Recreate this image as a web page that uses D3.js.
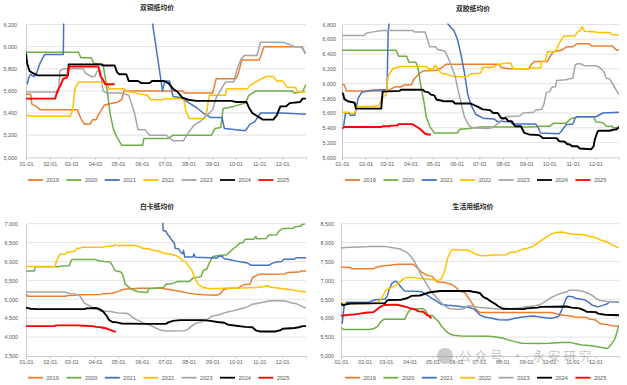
<!DOCTYPE html>
<html>
<head>
<meta charset="utf-8">
<script src="https://cdn.jsdelivr.net/npm/d3@7"></script>
<style>
  html, body { margin: 0; padding: 0; background: #fff; }
  svg { display: block; font-family: "Liberation Sans", Arial, sans-serif; }
</style>
</head>
<body>
<svg id="chart" width="627" height="385"></svg>
<script>
// x values are months counted from 01-01 (0 = 01-01, 12 = year end)
const years = ['2019', '2020', '2021', '2022', '2023', '2024', '2025'];
const yearColors = ['#ED7D31', '#70AD47', '#4472C4', '#FFC000', '#A5A5A5', '#000000', '#FF0000'];
const xTickLabels = ['01-01', '02-01', '03-01', '04-01', '05-01', '06-01', '07-01', '08-01', '09-01', '10-01', '11-01', '12-01'];

// 双铜纸均价
const stTicks = [5000, 5200, 5400, 5600, 5800, 6000, 6200];
const st2019 = [[0,5570],[0.2,5570],[0.25,5480],[0.45,5460],[0.6,5430],[2.2,5430],[2.35,5350],[2.5,5300],[2.75,5300],[2.85,5340],[3.0,5340],[3.15,5400],[3.35,5470],[3.5,5480],[3.95,5500],[4.1,5520],[4.2,5600],[6.7,5600],[6.8,5580],[8.0,5580],[8.15,5710],[9.0,5710],[9.1,5760],[9.25,5880],[10.0,5880],[10.2,6000],[11.8,6000],[11.95,5950],[12,5950]];
const st2020 = [[0,5950],[2.25,5950],[2.35,5900],[2.8,5900],[2.9,5850],[3.3,5840],[3.45,5650],[3.6,5400],[3.75,5250],[3.9,5180],[4.1,5110],[5.0,5110],[5.05,5170],[6.1,5170],[6.3,5200],[7.95,5200],[8.1,5260],[8.35,5270],[8.45,5440],[8.9,5460],[9.4,5490],[9.55,5560],[9.85,5600],[11.4,5600],[11.5,5580],[11.85,5590],[12,5660]];
const st2021 = [[0.05,5660],[0.12,5720],[0.2,5750],[0.35,5730],[0.45,5760],[0.6,5850],[0.8,5930],[1.6,5930],[1.65,6900],[5.0,6815],[5.43,6200],[5.85,5600],[5.95,5690],[6.15,5690],[6.3,5550],[6.6,5540],[7.0,5490],[7.3,5450],[7.6,5400],[7.9,5360],[8.4,5360],[8.5,5260],[9.4,5240],[9.6,5300],[9.8,5320],[10.05,5400],[11.0,5400],[12,5390]];
const st2022 = [[0,5380],[0.3,5370],[1.9,5370],[2.0,5430],[2.1,5620],[2.25,5680],[3.45,5680],[3.55,5620],[4.2,5620],[4.3,5600],[4.7,5580],[5.2,5560],[5.35,5520],[5.8,5520],[6.0,5530],[6.75,5530],[6.85,5420],[7.0,5350],[7.65,5350],[7.75,5420],[7.85,5560],[8.55,5560],[8.6,5620],[9.5,5620],[9.6,5650],[10.0,5700],[10.3,5730],[10.6,5730],[10.75,5690],[11.0,5690],[11.2,5630],[11.55,5630],[11.65,5590],[12,5590]];
const st2023 = [[0,5590],[1.4,5590],[1.45,5780],[1.6,5800],[2.45,5800],[2.55,5760],[2.8,5730],[2.95,5730],[3.05,5780],[3.2,5780],[3.3,5600],[3.45,5580],[4.1,5580],[4.4,5560],[4.5,5500],[4.65,5400],[4.8,5250],[5.1,5250],[5.3,5200],[6.0,5200],[6.3,5150],[6.75,5150],[6.95,5220],[7.2,5290],[7.5,5330],[7.8,5390],[8.0,5430],[8.15,5540],[8.35,5610],[8.55,5680],[8.9,5680],[9.05,5800],[9.2,5880],[9.35,5920],[9.9,5920],[10.05,6040],[11.0,6040],[11.3,6020],[11.5,6000],[11.85,6000],[11.95,5940],[12,5940]];
const st2024 = [[0,5940],[0.05,5850],[0.15,5780],[0.3,5760],[0.5,5740],[1.8,5740],[1.83,5840],[3.2,5840],[3.3,5830],[3.8,5830],[3.9,5770],[4.0,5750],[4.3,5750],[4.4,5690],[4.8,5690],[4.95,5670],[5.3,5670],[5.4,5690],[5.9,5690],[6.1,5670],[6.3,5620],[6.5,5590],[6.7,5540],[6.95,5520],[7.3,5510],[8.8,5510],[9.0,5500],[9.45,5500],[9.55,5450],[9.7,5400],[9.85,5380],[10.15,5340],[10.6,5340],[10.75,5380],[10.9,5460],[11.15,5460],[11.3,5490],[11.75,5500],[11.85,5530],[12,5530]];
const st2025 = [[0,5530],[1.25,5530],[1.35,5600],[1.5,5660],[1.6,5710],[1.75,5720],[1.85,5820],[3.1,5820],[3.2,5730],[3.3,5700],[3.4,5660],[3.8,5660]];

// 双胶纸均价
const sjTicks = [5000, 5200, 5400, 5600, 5800, 6000, 6200, 6400, 6600, 6800];
const sj2019 = [[0,5990],[0.1,5980],[0.2,5900],[2.0,5900],[2.15,5930],[2.35,5960],[2.5,5950],[2.7,5980],[3.0,5980],[3.1,6050],[3.3,6120],[3.5,6170],[4.1,6180],[4.3,6210],[4.5,6260],[6.8,6260],[6.9,6220],[7.2,6200],[8.1,6200],[8.2,6260],[8.35,6300],[8.9,6300],[9.0,6360],[9.15,6430],[9.5,6450],[9.75,6500],[10.0,6500],[10.2,6540],[10.7,6540],[10.8,6510],[11.7,6510],[11.9,6450],[12,6450]];
const sj2020 = [[0,6450],[2.35,6450],[2.45,6370],[2.8,6370],[2.9,6290],[3.2,6290],[3.3,6200],[3.4,6000],[3.55,5750],[3.65,5550],[3.8,5420],[4.0,5330],[5.0,5330],[5.1,5380],[5.5,5390],[6.0,5410],[8.2,5410],[8.6,5420],[9.0,5420],[9.15,5460],[9.7,5460],[9.9,5520],[10.2,5550],[10.9,5550],[11.0,5480],[11.3,5470],[11.45,5420],[11.7,5420],[11.75,5400],[11.95,5400],[12,5420]];
const sj2021 = [[0.07,5420],[0.15,5600],[0.3,5600],[0.35,5570],[0.55,5570],[0.7,5800],[0.85,5880],[1.3,5910],[1.95,5920],[2.0,6700],[2.1,7000],[4.4,7000],[4.6,6800],[4.85,6720],[5.0,6600],[5.15,6400],[5.3,6150],[5.45,5850],[5.6,5700],[5.8,5580],[6.0,5550],[6.1,5530],[6.6,5520],[6.7,5490],[7.3,5480],[7.4,5450],[8.4,5450],[8.5,5400],[8.6,5330],[9.4,5320],[9.5,5350],[9.7,5440],[10.0,5450],[10.1,5530],[10.2,5550],[11.0,5550],[11.3,5600],[12,5610]];
const sj2022 = [[0,5610],[0.3,5610],[0.4,5590],[0.55,5600],[0.65,5690],[1.3,5690],[1.6,5700],[1.75,5820],[1.9,5840],[2.0,6100],[2.2,6200],[2.5,6230],[3.65,6230],[3.75,6200],[3.95,6200],[4.05,6250],[4.15,6200],[4.3,6140],[4.5,6130],[4.75,6100],[5.4,6090],[5.55,6130],[6.0,6140],[6.1,6220],[6.5,6220],[6.7,6250],[7.0,6270],[7.3,6280],[7.4,6210],[7.6,6200],[8.1,6200],[8.2,6210],[8.6,6210],[8.65,6300],[8.8,6300],[8.9,6430],[9.2,6430],[9.3,6470],[9.45,6570],[9.6,6640],[10.1,6650],[10.2,6700],[10.3,6710],[10.4,6770],[10.5,6710],[11.0,6700],[11.1,6690],[11.6,6690],[11.7,6660],[12,6660]];
const sj2023 = [[0,6650],[0.95,6650],[1.05,6680],[1.35,6700],[1.75,6720],[3.05,6720],[3.15,6700],[3.6,6700],[3.7,6600],[3.8,6500],[4.05,6500],[4.15,6460],[4.45,6440],[4.6,6350],[4.75,6230],[4.9,6100],[5.0,5950],[5.15,5750],[5.3,5550],[5.5,5430],[5.65,5400],[6.3,5390],[6.5,5400],[6.85,5480],[7.1,5550],[7.7,5560],[7.85,5600],[8.3,5610],[8.4,5640],[8.65,5650],[8.75,5720],[8.85,5880],[9.0,5890],[9.1,5950],[9.25,5960],[9.3,6040],[9.7,6050],[9.8,6060],[10.0,6070],[10.1,6250],[10.2,6270],[10.4,6260],[10.5,6240],[11.0,6240],[11.15,6220],[11.35,6160],[11.45,6070],[11.6,6060],[11.75,5980],[11.9,5900],[12,5850]];
const sj2024 = [[0,5870],[0.05,5860],[0.1,5790],[0.25,5760],[0.55,5740],[0.6,5660],[1.7,5660],[1.76,5890],[2.5,5900],[2.55,5915],[3.5,5915],[3.6,5890],[3.75,5880],[3.85,5850],[4.0,5840],[4.1,5780],[4.3,5770],[4.4,5760],[4.8,5760],[4.9,5730],[5.55,5730],[5.85,5690],[6.1,5650],[6.4,5640],[6.55,5600],[6.75,5600],[6.9,5530],[7.1,5530],[7.2,5490],[7.35,5490],[7.5,5420],[7.75,5420],[7.9,5330],[8.1,5310],[8.55,5300],[8.7,5260],[9.3,5260],[9.4,5220],[9.65,5210],[9.75,5180],[9.9,5170],[9.95,5150],[10.2,5150],[10.3,5120],[10.8,5110],[10.9,5150],[10.95,5240],[11.05,5330],[11.1,5360],[11.6,5360],[11.7,5370],[11.9,5380],[12,5410]];
const sj2025 = [[0,5390],[0.1,5410],[1.7,5410],[1.75,5420],[2.05,5420],[2.1,5430],[2.4,5430],[2.45,5450],[3.05,5450],[3.2,5420],[3.35,5390],[3.5,5350],[3.6,5320],[3.7,5310],[3.85,5310]];

// 白卡纸均价
const bkTicks = [3500, 4000, 4500, 5000, 5500, 6000, 6500, 7000];
const bk2019 = [[0,5150],[0.08,5080],[1.7,5080],[1.8,5100],[2.1,5110],[2.2,5120],[3.2,5130],[3.3,5150],[3.7,5160],[3.85,5190],[4.0,5210],[4.1,5250],[4.3,5270],[4.9,5290],[5.8,5290],[6.0,5270],[6.2,5250],[6.5,5220],[6.7,5200],[6.9,5170],[7.2,5140],[7.6,5120],[8.2,5110],[8.35,5160],[8.45,5250],[8.7,5290],[9.1,5300],[9.2,5340],[9.35,5390],[9.6,5400],[9.7,5570],[9.85,5620],[10.0,5660],[11.1,5670],[11.2,5710],[11.7,5720],[11.8,5750],[12,5750]];
const bk2020 = [[0,5750],[0.35,5750],[0.4,5860],[1.4,5860],[1.5,5880],[1.85,5890],[1.95,6040],[2.0,6050],[3.0,6050],[3.1,6020],[3.35,6000],[3.6,5990],[3.7,5900],[3.8,5770],[3.9,5740],[4.05,5730],[4.15,5650],[4.25,5400],[4.35,5350],[4.5,5280],[4.8,5200],[5.2,5180],[5.25,5280],[5.5,5290],[5.9,5310],[6.0,5400],[6.3,5420],[6.5,5470],[7.0,5470],[7.15,5560],[7.5,5600],[7.6,5770],[7.75,5800],[7.85,5950],[8.0,6130],[8.2,6150],[8.6,6180],[8.75,6260],[8.9,6350],[9.0,6390],[9.15,6480],[9.3,6500],[9.4,6590],[9.75,6590],[9.85,6660],[9.9,6600],[10.3,6610],[10.4,6700],[10.75,6710],[10.85,6810],[11.0,6870],[11.45,6880],[11.55,6920],[11.75,6930],[11.85,6980],[11.95,6990]];
const bk2021 = [[5.85,7200],[5.88,6820],[6.0,6800],[6.05,6730],[6.15,6660],[6.25,6560],[6.35,6500],[6.4,6350],[6.55,6330],[6.65,6230],[6.72,6210],[6.75,6290],[6.8,6120],[7.15,6120],[7.2,6200],[7.25,6110],[8.2,6090],[8.25,6140],[8.4,6140],[8.5,6070],[8.8,6040],[9.0,6010],[9.3,5980],[9.5,5960],[9.65,5900],[10.4,5900],[10.55,5950],[10.75,5990],[10.95,6000],[11.05,6060],[11.5,6060],[11.6,6100],[12,6100]];
const bk2022 = [[0,5870],[1.25,5870],[1.3,6000],[1.4,6130],[1.45,6190],[1.7,6200],[1.75,6240],[1.95,6260],[2.1,6280],[2.2,6350],[2.35,6360],[2.45,6380],[3.3,6380],[3.4,6400],[3.75,6410],[3.8,6440],[3.95,6420],[4.7,6420],[4.9,6390],[5.0,6350],[5.3,6330],[5.45,6300],[5.7,6270],[5.9,6220],[6.2,6190],[6.45,6150],[6.6,6100],[6.75,6010],[6.85,5990],[7.0,5850],[7.1,5780],[7.2,5620],[7.3,5480],[7.4,5380],[7.6,5310],[7.9,5280],[8.5,5290],[9.3,5300],[9.9,5310],[10.2,5340],[10.35,5360],[10.5,5320],[10.8,5300],[11.0,5280],[11.4,5250],[11.7,5210],[12,5200]];
const bk2023 = [[0,5210],[0.1,5190],[1.6,5190],[1.75,5180],[1.9,5150],[2.1,5140],[2.3,5100],[2.4,5000],[2.5,4900],[2.6,4870],[2.75,4820],[2.9,4760],[3.05,4740],[3.2,4690],[3.6,4680],[3.8,4660],[3.95,4640],[4.3,4630],[4.45,4590],[4.55,4530],[4.7,4470],[4.85,4430],[5.0,4380],[5.2,4340],[5.4,4290],[5.55,4240],[5.75,4190],[6.0,4160],[6.8,4170],[6.95,4210],[7.1,4290],[7.3,4370],[7.5,4400],[7.65,4430],[7.8,4480],[8.0,4560],[8.2,4580],[8.4,4620],[8.6,4660],[8.9,4700],[9.2,4750],[9.5,4800],[9.7,4870],[9.9,4890],[10.2,4930],[10.5,4960],[11.0,4960],[11.2,4940],[11.4,4900],[11.6,4880],[11.8,4820],[12,4770]];
const bk2024 = [[0,4780],[0.2,4750],[0.5,4740],[2.5,4740],[2.6,4760],[3.0,4770],[3.15,4740],[3.3,4680],[3.45,4570],[3.55,4460],[3.7,4400],[3.9,4390],[4.1,4360],[5.0,4350],[6.0,4350],[6.1,4390],[6.3,4430],[6.6,4450],[7.6,4450],[7.9,4430],[8.2,4400],[8.5,4380],[8.65,4330],[9.0,4300],[9.4,4270],[9.7,4260],[9.85,4180],[10.0,4150],[10.7,4150],[10.9,4180],[11.0,4220],[11.5,4240],[11.7,4260],[11.85,4290],[12,4290]];
const bk2025 = [[0,4290],[1.2,4290],[1.3,4310],[2.2,4310],[2.5,4300],[2.85,4290],[3.0,4270],[3.2,4260],[3.35,4240],[3.5,4220],[3.6,4190],[3.75,4160],[3.85,4140]];

// 生活用纸均价
const shTicks = [5000, 5500, 6000, 6500, 7000, 7500, 8000, 8500];
const sh2019 = [[0,7350],[0.4,7340],[0.45,7310],[1.4,7310],[1.5,7340],[1.75,7380],[2.1,7400],[2.45,7430],[3.1,7430],[3.2,7380],[3.35,7300],[3.45,7230],[3.6,7170],[3.8,7120],[3.95,7100],[4.05,7020],[4.15,6960],[4.45,6950],[4.6,6920],[4.75,6900],[4.95,6820],[5.1,6720],[5.35,6680],[5.45,6580],[5.6,6450],[5.75,6300],[5.85,6220],[6.0,6150],[9.1,6150],[9.3,6120],[9.6,6080],[9.9,6060],[10.1,6030],[10.6,6020],[10.7,5980],[11.0,5950],[11.1,5900],[11.2,5850],[11.5,5830],[11.7,5800],[12,5780]];
const sh2020 = [[0,5760],[0.1,5700],[1.2,5700],[1.4,5720],[1.6,5790],[1.7,5900],[1.85,5970],[2.75,5970],[2.85,6100],[2.95,6200],[3.05,6250],[3.55,6250],[3.65,6200],[3.75,6080],[3.95,6070],[4.05,6000],[4.2,5920],[4.35,5780],[4.5,5680],[4.65,5600],[4.85,5550],[5.2,5530],[6.4,5520],[6.7,5500],[7.0,5470],[7.25,5420],[7.5,5380],[7.8,5340],[8.5,5330],[9.0,5340],[9.5,5360],[9.9,5360],[10.1,5330],[10.4,5290],[10.8,5270],[11.0,5250],[11.3,5220],[11.5,5200],[11.6,5260],[11.7,5340],[11.8,5420],[11.9,5600],[12,5820]];
const sh2021 = [[0.05,5850],[0.1,6150],[0.15,6380],[0.25,6420],[1.2,6420],[1.35,6460],[1.5,6490],[1.9,6500],[2.0,6600],[2.1,6800],[2.2,6920],[2.3,6970],[2.4,6970],[2.5,6900],[2.65,6780],[2.75,6720],[3.2,6710],[3.5,6700],[3.6,6650],[3.75,6600],[3.85,6550],[4.0,6500],[4.2,6420],[4.35,6360],[4.6,6340],[5.0,6320],[5.2,6300],[5.5,6290],[5.75,6240],[5.9,6150],[6.0,6080],[6.2,6030],[6.5,6000],[6.8,5960],[7.2,5950],[7.5,6000],[7.9,6040],[8.3,6060],[8.6,6030],[9.0,6000],[9.2,6010],[9.4,6050],[9.55,6250],[9.7,6500],[9.8,6580],[10.0,6570],[10.1,6530],[10.5,6490],[10.7,6420],[10.85,6340],[11.1,6300],[11.3,6340],[11.5,6380],[11.6,6440],[12,6420]];
const sh2022 = [[0,6420],[0.15,6380],[1.3,6390],[1.5,6400],[1.65,6440],[1.75,6520],[1.85,6640],[1.95,6750],[2.15,6800],[2.4,6880],[2.55,6960],[2.7,7040],[2.85,7080],[3.1,7080],[3.3,7060],[3.7,7040],[4.0,7020],[4.2,7000],[4.3,7020],[4.4,7120],[4.5,7320],[4.6,7580],[4.7,7720],[4.8,7820],[5.1,7810],[5.5,7790],[5.6,7760],[5.8,7700],[6.0,7660],[6.3,7650],[6.5,7670],[7.15,7680],[7.3,7740],[7.6,7760],[7.8,7820],[8.05,7850],[8.3,7900],[8.5,7990],[8.7,8080],[8.9,8160],[9.1,8230],[9.3,8270],[9.55,8280],[9.8,8240],[10.1,8220],[10.5,8210],[10.7,8170],[11.0,8130],[11.2,8070],[11.5,8010],[11.7,7940],[12,7860]];
const sh2023 = [[0,7860],[0.2,7870],[0.4,7880],[1.1,7890],[1.2,7900],[1.9,7900],[2.1,7880],[2.3,7860],[2.55,7830],[2.7,7780],[2.85,7740],[3.0,7640],[3.15,7520],[3.3,7350],[3.45,7150],[3.6,7000],[3.75,6850],[3.9,6700],[4.1,6560],[4.3,6420],[4.5,6320],[4.7,6250],[5.1,6230],[5.3,6250],[5.5,6330],[5.75,6310],[6.0,6280],[6.4,6260],[7.0,6230],[7.3,6250],[7.7,6270],[8.0,6300],[8.4,6330],[8.6,6360],[8.75,6420],[8.9,6480],[9.05,6540],[9.3,6610],[9.5,6660],[9.75,6700],[9.85,6740],[10.2,6740],[10.5,6700],[10.7,6650],[10.9,6580],[11.0,6520],[11.2,6470],[11.5,6440],[12,6430]];
const sh2024 = [[0,6380],[0.1,6340],[0.25,6370],[0.4,6390],[1.9,6400],[2.0,6470],[2.1,6480],[2.6,6490],[2.8,6520],[2.95,6560],[3.05,6590],[3.4,6600],[3.6,6640],[3.8,6680],[4.0,6700],[4.3,6720],[5.55,6720],[5.7,6700],[5.9,6680],[6.0,6660],[6.15,6560],[6.3,6520],[6.45,6450],[6.65,6380],[6.8,6310],[7.0,6250],[7.9,6240],[8.0,6260],[8.5,6280],[8.6,6300],[9.75,6310],[9.95,6280],[10.3,6260],[10.5,6210],[10.6,6170],[11.0,6160],[11.1,6120],[11.4,6090],[12,6080]];
const sh2025 = [[0,6060],[0.2,6080],[0.6,6100],[0.8,6120],[1.15,6150],[1.4,6160],[1.55,6230],[1.7,6300],[1.85,6350],[2.4,6360],[2.6,6330],[2.8,6300],[3.0,6260],[3.2,6230],[3.35,6180],[3.55,6170],[3.7,6090],[3.8,6060],[3.9,6000]];

const panels = [
  { title: '双铜纸均价', ticks: stTicks, series: [st2019, st2020, st2021, st2022, st2023, st2024, st2025],
    left: 26, right: 306, top: 24.5, bottom: 157.3, titleX: 157, titleY: 10, labelPad: 9, legendX: 28, legendY: 180 },
  { title: '双胶纸均价', ticks: sjTicks, series: [sj2019, sj2020, sj2021, sj2022, sj2023, sj2024, sj2025],
    left: 342, right: 619, top: 24.5, bottom: 157.3, titleX: 473, titleY: 11, labelPad: 6, legendX: 345, legendY: 180 },
  { title: '白卡纸均价', ticks: bkTicks, series: [bk2019, bk2020, bk2021, bk2022, bk2023, bk2024, bk2025],
    left: 26, right: 306, top: 223.7, bottom: 356, titleX: 157, titleY: 209, labelPad: 8, legendX: 28, legendY: 377.7 },
  { title: '生活用纸均价', ticks: shTicks, series: [sh2019, sh2020, sh2021, sh2022, sh2023, sh2024, sh2025],
    left: 341, right: 619, top: 223.7, bottom: 356, titleX: 473, titleY: 209, labelPad: 7, legendX: 345, legendY: 377.7 }
];

const svg = d3.select('#chart');
const yearStart = Date.UTC(2001, 0, 1);
const yearEnd = Date.UTC(2002, 0, 1);
const toDate = m => new Date(yearStart + m / 12 * (yearEnd - yearStart));
const monthStarts = d3.utcMonth.range(new Date(yearStart), new Date(yearEnd));

function drawPanel(p, idx) {
  const x = d3.scaleUtc().domain([new Date(yearStart), new Date(yearEnd)]).range([p.left, p.right]);
  const y = d3.scaleLinear().domain(d3.extent(p.ticks)).range([p.bottom, p.top]);
  const g = svg.append('g');

  // gridlines
  g.selectAll('line.grid')
    .data(p.ticks.slice(1))
    .join('line')
    .attr('x1', p.left).attr('x2', p.right)
    .attr('y1', d => y(d)).attr('y2', d => y(d))
    .attr('stroke', '#d9d9d9').attr('stroke-width', 0.7);

  // axes
  const xAxis = g.append('g')
    .attr('transform', `translate(0,${p.bottom})`)
    .call(d3.axisBottom(x).tickValues(monthStarts).tickFormat((d, i) => xTickLabels[i]).tickSize(2.5).tickPadding(2));
  const yAxis = g.append('g')
    .attr('transform', `translate(${p.left},0)`)
    .call(d3.axisLeft(y).tickValues(p.ticks).tickFormat(d3.format(',')).tickSize(0).tickPadding(p.labelPad));
  [xAxis, yAxis].forEach(a => {
    a.select('.domain').attr('stroke', '#bfbfbf').attr('stroke-width', 0.8);
    a.selectAll('.tick line').attr('stroke', '#bfbfbf').attr('stroke-width', 0.8);
    a.selectAll('text').attr('fill', '#595959').attr('font-size', 5.4);
  });

  // lines
  const clipId = `clip-${idx}`;
  svg.append('clipPath').attr('id', clipId)
    .append('rect')
    .attr('x', p.left).attr('y', p.top - 1)
    .attr('width', p.right - p.left).attr('height', p.bottom - p.top + 1);

  const line = d3.line()
    .x(d => x(toDate(d[0])))
    .y(d => y(d[1]));

  g.append('g').attr('clip-path', `url(#${clipId})`)
    .selectAll('path')
    .data(p.series)
    .join('path')
    .attr('d', line)
    .attr('fill', 'none')
    .attr('stroke', (d, i) => yearColors[i])
    .attr('stroke-width', (d, i) => (i >= 5 ? 1.9 : 1.5))
    .attr('stroke-linejoin', 'round');

  // title
  g.append('text')
    .attr('x', p.titleX).attr('y', p.titleY)
    .attr('text-anchor', 'middle')
    .attr('font-family', '"Noto Sans CJK SC", sans-serif')
    .attr('font-weight', 'bold')
    .attr('font-size', 6.8)
    .attr('fill', '#262626')
    .text(p.title);

  // legend
  const item = g.selectAll('g.legend')
    .data(years)
    .join('g')
    .attr('transform', (d, i) => `translate(${p.legendX + i * 38.4},${p.legendY})`);
  item.append('line')
    .attr('x1', 0).attr('x2', 15)
    .attr('stroke', (d, i) => yearColors[i])
    .attr('stroke-width', 1.8);
  item.append('text')
    .attr('x', 18.5).attr('y', 2)
    .attr('font-size', 5.6)
    .attr('fill', '#595959')
    .text(d => d);
}

panels.forEach(drawPanel);

// watermark
const wm = svg.append('g').attr('opacity', 0.45);
wm.append('circle').attr('cx', 445).attr('cy', 356).attr('r', 8).attr('fill', '#8c8c8c');
wm.append('text')
  .attr('x', 459).attr('y', 361)
  .attr('font-family', '"Noto Sans CJK SC", sans-serif')
  .attr('font-size', 12.5)
  .attr('letter-spacing', 3)
  .attr('fill', '#7f7f7f')
  .text('公众号 · 永安研究');
</script>
</body>
</html>
